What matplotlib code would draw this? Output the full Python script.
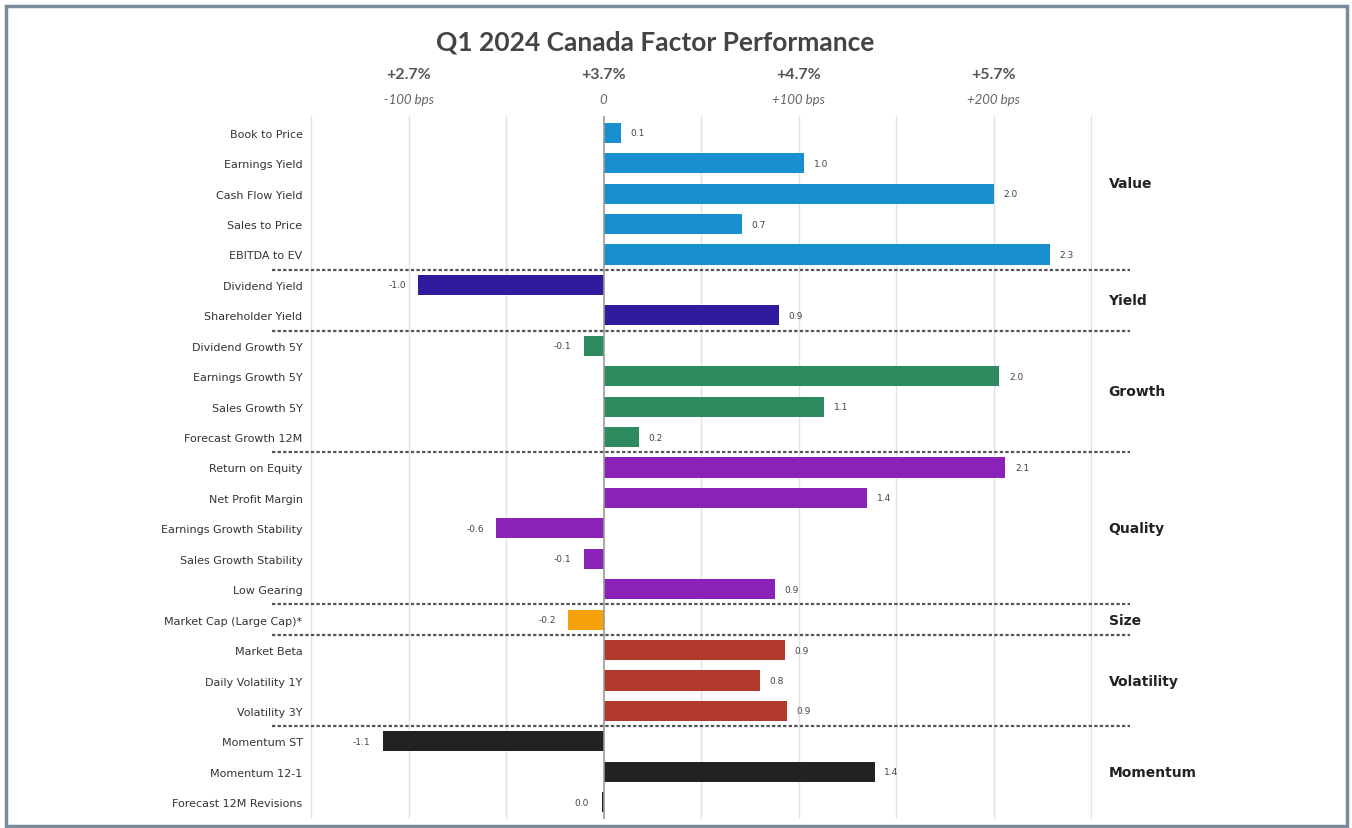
import matplotlib
matplotlib.use('Agg')
import matplotlib.pyplot as plt
from matplotlib.patches import Rectangle
from matplotlib.transforms import Bbox

factors = ['Book to Price', 'Earnings Yield', 'Cash Flow Yield', 'Sales to Price', 'EBITDA to EV',
           'Dividend Yield', 'Shareholder Yield',
           'Dividend Growth 5Y', 'Earnings Growth 5Y', 'Sales Growth 5Y', 'Forecast Growth 12M',
           'Return on Equity', 'Net Profit Margin', 'Earnings Growth Stability', 'Sales Growth Stability', 'Low Gearing',
           'Market Cap (Large Cap)*',
           'Market Beta', 'Daily Volatility 1Y', 'Volatility 3Y',
           'Momentum ST', 'Momentum 12-1', 'Forecast 12M Revisions']
values = [0.09, 1.03, 2.0, 0.71, 2.29,
          -0.95, 0.9,
          -0.1, 2.03, 1.13, 0.18,
          2.06, 1.35, -0.55, -0.1, 0.88,
          -0.18,
          0.93, 0.8, 0.94,
          -1.13, 1.39, -0.01]
labels = ['0.1', '1.0', '2.0', '0.7', '2.3',
          '-1.0', '0.9',
          '-0.1', '2.0', '1.1', '0.2',
          '2.1', '1.4', '-0.6', '-0.1', '0.9',
          '-0.2',
          '0.9', '0.8', '0.9',
          '-1.1', '1.4', '0.0']
groups = ['Value', 'Yield', 'Growth', 'Quality', 'Size', 'Volatility', 'Momentum']
group_sizes = [5, 2, 4, 5, 1, 3, 3]
group_colors = ['#1a8fd0', '#2f1c9c', '#2e8b60', '#8a22b8', '#f5a20a', '#b23a2c', '#222222']

top_ticks = [-1, 0, 1, 2]
top_pct = ['+2.7%', '+3.7%', '+4.7%', '+5.7%']
top_bps = ['-100 bps', '0', '+100 bps', '+200 bps']

colors = []
for c, n in zip(group_colors, group_sizes):
    colors += [c] * n

fig = plt.figure(figsize=(13.52, 8.29), dpi=100)
ax = fig.add_axes([272 / 1352, 1 - 820 / 829, (1130 - 272) / 1352, (820 - 117) / 829])

y = list(range(len(factors)))
ax.barh(y, values, height=0.66, color=colors, zorder=3)
ax.set_xlim(-1.7, 2.7)
ax.set_ylim(len(factors) - 0.45, -0.55)

# grid every 0.5
ax.set_xticks([-1.5, -1, -0.5, 0.5, 1, 1.5, 2, 2.5])
ax.tick_params(axis='x', length=0, labelbottom=False)
ax.grid(axis='x', color='#e2e2e2', linewidth=1, zorder=0)
ax.axvline(0, color='#9a9a9a', linewidth=1.2, zorder=4)

ax.set_yticks(y)
ax.set_yticklabels(factors, fontsize=8, color='#333333')
ax.tick_params(axis='y', length=0, pad=-22)
for s in ax.spines.values():
    s.set_visible(False)

# value labels
for yi, v, lab in zip(y, values, labels):
    if v >= 0:
        ax.annotate(lab, (v, yi), xytext=(7, 0), textcoords='offset points',
                    ha='left', va='center', fontsize=6.5, color='#444444')
    else:
        ax.annotate(lab, (v, yi), xytext=(-9, 0), textcoords='offset points',
                    ha='right', va='center', fontsize=6.5, color='#444444')

# group separators and names
start = 0
for g, n in zip(groups, group_sizes):
    end = start + n
    if end < len(factors):
        ax.axhline(end - 0.5, color='#555555', linestyle=(0, (1.5, 1)), linewidth=1.6,
                   zorder=5, clip_on=False)
    ypos = (start + end - 1) / 2
    if g == 'Value':
        ypos -= 0.35
    t = ax.text(2.59, ypos, g, ha='left', va='center', fontsize=10,
                fontweight='bold', color='#222222')
    if g == 'Momentum':
        t.set_clip_box(Bbox.from_extents(0, 0, 1195, 829))
        t.set_clip_on(True)
    start = end

# top axis labels
for xt, p, b in zip(top_ticks, top_pct, top_bps):
    ax.annotate(p, (xt, 1), xycoords=('data', 'axes fraction'), xytext=(0, 30),
                textcoords='offset points', ha='center', va='center', fontsize=11.5,
                fontweight='bold', family='Lato', color='#555555')
    ax.annotate(b, (xt, 1), xycoords=('data', 'axes fraction'), xytext=(0, 12),
                textcoords='offset points', ha='center', va='center', fontsize=9.5,
                style='italic', family='Lato', color='#666666')

fig.text(655 / 1352, 1 - 42 / 829, 'Q1 2024 Canada Factor Performance', ha='center', va='center',
         fontsize=19, fontweight='bold', family='Lato', color='#444444')

# outer frame
fig.patches.append(Rectangle((5.5 / 1352, 2.5 / 829), 1341 / 1352, 819.5 / 829,
                             transform=fig.transFigure, fill=False, edgecolor='#7b8a9a',
                             linewidth=2.5))

fig.savefig('out.png', dpi=100, facecolor='white')
